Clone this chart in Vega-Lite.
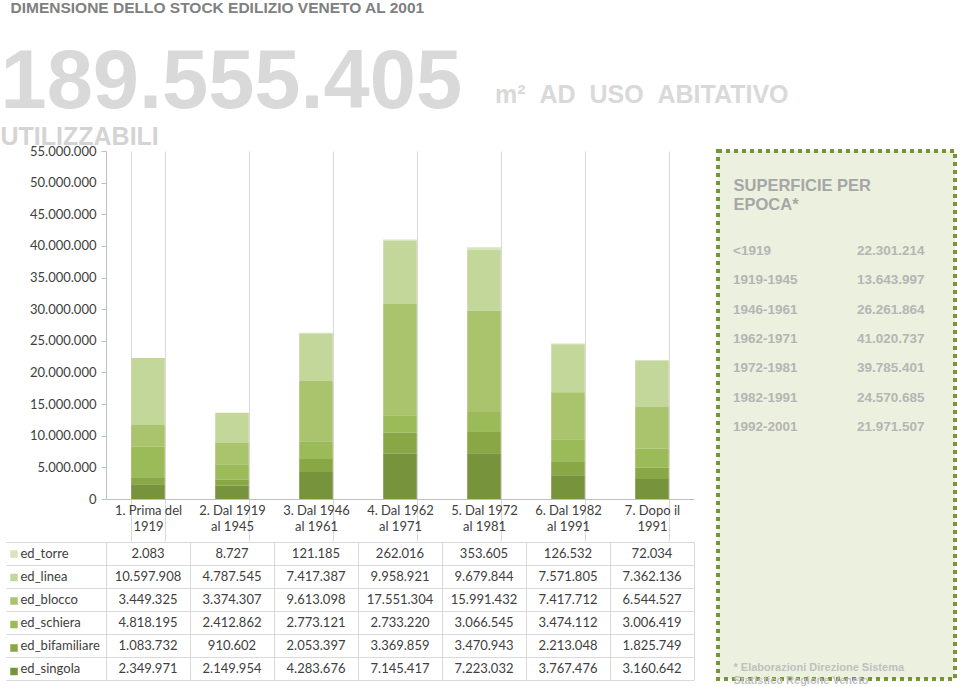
{
  "$schema": "https://vega.github.io/schema/vega-lite/v6.json",
  "background": "white",
  "padding": 0,
  "config": {
    "locale": {"number": {"decimal": ",", "thousands": ".", "grouping": [3], "currency": ["€", ""]}},
    "view": {"stroke": null},
    "font": "Lato"
  },
  "title": {
    "text": "DIMENSIONE DELLO STOCK EDILIZIO VENETO AL 2001",
    "anchor": "start",
    "font": "Liberation Sans",
    "fontSize": 15.5,
    "fontWeight": "bold",
    "color": "#808080",
    "dx": 10,
    "offset": 26
  },
  "datasets": {
    "superfici": [
      {"epoca": "1. Prima del 1919", "tipo": "ed_torre", "mq": 2083},
      {"epoca": "1. Prima del 1919", "tipo": "ed_linea", "mq": 10597908},
      {"epoca": "1. Prima del 1919", "tipo": "ed_blocco", "mq": 3449325},
      {"epoca": "1. Prima del 1919", "tipo": "ed_schiera", "mq": 4818195},
      {"epoca": "1. Prima del 1919", "tipo": "ed_bifamiliare", "mq": 1083732},
      {"epoca": "1. Prima del 1919", "tipo": "ed_singola", "mq": 2349971},
      {"epoca": "2. Dal 1919 al 1945", "tipo": "ed_torre", "mq": 8727},
      {"epoca": "2. Dal 1919 al 1945", "tipo": "ed_linea", "mq": 4787545},
      {"epoca": "2. Dal 1919 al 1945", "tipo": "ed_blocco", "mq": 3374307},
      {"epoca": "2. Dal 1919 al 1945", "tipo": "ed_schiera", "mq": 2412862},
      {"epoca": "2. Dal 1919 al 1945", "tipo": "ed_bifamiliare", "mq": 910602},
      {"epoca": "2. Dal 1919 al 1945", "tipo": "ed_singola", "mq": 2149954},
      {"epoca": "3. Dal 1946 al 1961", "tipo": "ed_torre", "mq": 121185},
      {"epoca": "3. Dal 1946 al 1961", "tipo": "ed_linea", "mq": 7417387},
      {"epoca": "3. Dal 1946 al 1961", "tipo": "ed_blocco", "mq": 9613098},
      {"epoca": "3. Dal 1946 al 1961", "tipo": "ed_schiera", "mq": 2773121},
      {"epoca": "3. Dal 1946 al 1961", "tipo": "ed_bifamiliare", "mq": 2053397},
      {"epoca": "3. Dal 1946 al 1961", "tipo": "ed_singola", "mq": 4283676},
      {"epoca": "4. Dal 1962 al 1971", "tipo": "ed_torre", "mq": 262016},
      {"epoca": "4. Dal 1962 al 1971", "tipo": "ed_linea", "mq": 9958921},
      {"epoca": "4. Dal 1962 al 1971", "tipo": "ed_blocco", "mq": 17551304},
      {"epoca": "4. Dal 1962 al 1971", "tipo": "ed_schiera", "mq": 2733220},
      {"epoca": "4. Dal 1962 al 1971", "tipo": "ed_bifamiliare", "mq": 3369859},
      {"epoca": "4. Dal 1962 al 1971", "tipo": "ed_singola", "mq": 7145417},
      {"epoca": "5. Dal 1972 al 1981", "tipo": "ed_torre", "mq": 353605},
      {"epoca": "5. Dal 1972 al 1981", "tipo": "ed_linea", "mq": 9679844},
      {"epoca": "5. Dal 1972 al 1981", "tipo": "ed_blocco", "mq": 15991432},
      {"epoca": "5. Dal 1972 al 1981", "tipo": "ed_schiera", "mq": 3066545},
      {"epoca": "5. Dal 1972 al 1981", "tipo": "ed_bifamiliare", "mq": 3470943},
      {"epoca": "5. Dal 1972 al 1981", "tipo": "ed_singola", "mq": 7223032},
      {"epoca": "6. Dal 1982 al 1991", "tipo": "ed_torre", "mq": 126532},
      {"epoca": "6. Dal 1982 al 1991", "tipo": "ed_linea", "mq": 7571805},
      {"epoca": "6. Dal 1982 al 1991", "tipo": "ed_blocco", "mq": 7417712},
      {"epoca": "6. Dal 1982 al 1991", "tipo": "ed_schiera", "mq": 3474112},
      {"epoca": "6. Dal 1982 al 1991", "tipo": "ed_bifamiliare", "mq": 2213048},
      {"epoca": "6. Dal 1982 al 1991", "tipo": "ed_singola", "mq": 3767476},
      {"epoca": "7. Dopo il 1991", "tipo": "ed_torre", "mq": 72034},
      {"epoca": "7. Dopo il 1991", "tipo": "ed_linea", "mq": 7362136},
      {"epoca": "7. Dopo il 1991", "tipo": "ed_blocco", "mq": 6544527},
      {"epoca": "7. Dopo il 1991", "tipo": "ed_schiera", "mq": 3006419},
      {"epoca": "7. Dopo il 1991", "tipo": "ed_bifamiliare", "mq": 1825749},
      {"epoca": "7. Dopo il 1991", "tipo": "ed_singola", "mq": 3160642}
    ],
    "epoche": [
      {"epoca": "<1919", "superficie": 22301214},
      {"epoca": "1919-1945", "superficie": 13643997},
      {"epoca": "1946-1961", "superficie": 26261864},
      {"epoca": "1962-1971", "superficie": 41020737},
      {"epoca": "1972-1981", "superficie": 39785401},
      {"epoca": "1982-1991", "superficie": 24570685},
      {"epoca": "1992-2001", "superficie": 21971507}
    ]
  },
  "resolve": {"scale": {"color": "independent", "x": "independent", "y": "independent"}, "legend": {"color": "independent"}},
  "spacing": -201,
  "hconcat": [
    {
      "title": {
        "text": "189.555.405",
        "subtitle": "UTILIZZABILI",
        "anchor": "start",
        "frame": "bounds",
        "font": "Liberation Sans",
        "fontSize": 83,
        "fontWeight": "bold",
        "color": "#d9d9d9",
        "subtitleFont": "Liberation Sans",
        "subtitleFontSize": 25,
        "subtitleFontWeight": "bold",
        "subtitleColor": "#d4d4d4",
        "subtitlePadding": 0,
        "offset": -5,
        "dx": -5
      },
      "spacing": -8,
      "resolve": {"scale": {"color": "independent"}, "legend": {"color": "independent"}},
      "vconcat": [
        {
          "width": 588,
          "height": 348,
          "data": {"name": "superfici"},
          "transform": [
            {"window": [{"op": "row_number", "as": "ordine"}], "groupby": ["epoca"]}
          ],
          "mark": {"type": "bar"},
          "encoding": {
            "x": {
              "field": "epoca",
              "type": "nominal",
              "sort": ["1. Prima del 1919", "2. Dal 1919 al 1945", "3. Dal 1946 al 1961", "4. Dal 1962 al 1971", "5. Dal 1972 al 1981", "6. Dal 1982 al 1991", "7. Dopo il 1991"],
              "scale": {"paddingInner": 0.6, "paddingOuter": 0.3},
              "axis": {
                "title": null,
                "tickBand": "extent",
                "grid": true,
                "gridColor": "#d9d9d9",
                "ticks": true,
                "tickSize": 42,
                "tickColor": "#d9d9d9",
                "domain": true,
                "domainColor": "#bfbfbf",
                "labelAngle": 0,
                "labelPadding": -37,
                "labelBaseline": "top",
                "labelFontSize": 13,
                "labelColor": "#404040",
                "labelLineHeight": 16,
                "labelOverlap": false,
                "labelBound": false,
                "labelExpr": "indexof(datum.label, ' al ') > 0 ? [substring(datum.label, 0, indexof(datum.label, ' al ')), substring(datum.label, indexof(datum.label, ' al ') + 1)] : [substring(datum.label, 0, lastindexof(datum.label, ' ')), substring(datum.label, lastindexof(datum.label, ' ') + 1)]"
              }
            },
            "y": {
              "field": "mq",
              "type": "quantitative",
              "stack": "zero",
              "scale": {"domain": [0, 55000000], "nice": false},
              "axis": {
                "title": null,
                "values": [0, 5000000, 10000000, 15000000, 20000000, 25000000, 30000000, 35000000, 40000000, 45000000, 50000000, 55000000],
                "format": ",d",
                "grid": false,
                "tickSize": 5,
                "tickColor": "#bfbfbf",
                "domainColor": "#bfbfbf",
                "labelPadding": 5,
                "labelFontSize": 13,
                "labelColor": "#404040",
                "minExtent": 99,
                "maxExtent": 99
              }
            },
            "order": {"field": "ordine", "type": "quantitative", "sort": "descending"},
            "color": {
              "field": "tipo",
              "type": "nominal",
              "sort": ["ed_torre", "ed_linea", "ed_blocco", "ed_schiera", "ed_bifamiliare", "ed_singola"],
              "scale": {
                "domain": ["ed_torre", "ed_linea", "ed_blocco", "ed_schiera", "ed_bifamiliare", "ed_singola"],
                "range": ["#D7E4BD", "#C4D79B", "#A9C46C", "#9BBB59", "#89A745", "#77933C"]
              },
              "legend": null
            }
          }
        },
        {
          "width": 588,
          "height": 138,
          "data": {"name": "superfici"},
          "encoding": {
            "x": {
              "field": "epoca",
              "type": "nominal",
              "sort": ["1. Prima del 1919", "2. Dal 1919 al 1945", "3. Dal 1946 al 1961", "4. Dal 1962 al 1971", "5. Dal 1972 al 1981", "6. Dal 1982 al 1991", "7. Dopo il 1991"],
              "axis": {
                "title": null,
                "tickBand": "extent",
                "grid": true,
                "gridColor": "#d9d9d9",
                "labels": false,
                "ticks": false,
                "domain": false
              }
            },
            "y": {
              "field": "tipo",
              "type": "nominal",
              "sort": ["ed_torre", "ed_linea", "ed_blocco", "ed_schiera", "ed_bifamiliare", "ed_singola"],
              "scale": {"paddingInner": 0, "paddingOuter": 0},
              "axis": {
                "title": null,
                "tickBand": "extent",
                "grid": true,
                "gridColor": "#d9d9d9",
                "ticks": true,
                "tickSize": 100,
                "tickColor": "#d9d9d9",
                "domain": false,
                "labelAlign": "left",
                "labelPadding": -14,
                "labelFontSize": 13,
                "labelColor": "#404040",
                "minExtent": 99,
                "maxExtent": 99
              }
            }
          },
          "layer": [
            {
              "mark": {"type": "text", "fontSize": 13, "color": "#404040"},
              "encoding": {"text": {"field": "mq", "type": "quantitative", "format": ",d"}}
            },
            {
              "mark": {"type": "square", "opacity": 0},
              "encoding": {
                "color": {
                  "field": "tipo",
                  "type": "nominal",
                  "sort": ["ed_torre", "ed_linea", "ed_blocco", "ed_schiera", "ed_bifamiliare", "ed_singola"],
                  "scale": {
                    "domain": ["ed_torre", "ed_linea", "ed_blocco", "ed_schiera", "ed_bifamiliare", "ed_singola"],
                    "range": ["#D7E4BD", "#C4D79B", "#A9C46C", "#9BBB59", "#89A745", "#77933C"]
                  },
                  "legend": {
                    "orient": "none",
                    "legendX": -96,
                    "legendY": 8,
                    "title": null,
                    "symbolType": "square",
                    "symbolSize": 56,
                    "symbolOpacity": 1,
                    "symbolStrokeWidth": 0,
                    "labelExpr": "''",
                    "labelFontSize": 1,
                    "rowPadding": 15.5,
                    "padding": 0
                  }
                }
              }
            }
          ]
        }
      ]
    },
    {
      "width": 237,
      "height": 528,
      "data": {"name": "epoche"},
      "view": {"fill": "#EBF1DE", "stroke": "#77933C", "strokeWidth": 4, "strokeDash": [4, 4]},
      "title": {
        "text": "m²\u00a0\u00a0AD\u00a0\u00a0USO\u00a0\u00a0ABITATIVO",
        "anchor": "start",
        "frame": "group",
        "font": "Liberation Sans",
        "fontSize": 25,
        "fontWeight": "bold",
        "color": "#d9d9d9",
        "baseline": "alphabetic",
        "offset": 23,
        "dx": -223
      },
      "encoding": {
        "y": {
          "field": "epoca",
          "type": "ordinal",
          "sort": null,
          "scale": {"type": "point", "padding": 0, "range": [100, 276]},
          "axis": {
            "labels": false,
            "ticks": false,
            "domain": false,
            "grid": false,
            "title": ["* Elaborazioni Direzione Sistema", "Statistico Regione Veneto"],
            "titleAngle": 0,
            "titleX": 15,
            "titleY": 510,
            "titleAlign": "left",
            "titleBaseline": "top",
            "titleFont": "Liberation Sans",
            "titleFontSize": 11,
            "titleFontWeight": "bold",
            "titleColor": "#bfbfbf",
            "titleLineHeight": 13
          }
        }
      },
      "layer": [
        {
          "mark": {"type": "text", "align": "left", "font": "Liberation Sans", "fontWeight": "bold", "fontSize": 13.5, "color": "#b5b5b5"},
          "encoding": {
            "x": {
              "datum": "epoca",
              "type": "nominal",
              "scale": {"type": "point", "padding": 0, "domain": ["epoca", "superficie"], "range": [15, 139]},
              "axis": {
                "orient": "top",
                "labels": false,
                "ticks": false,
                "domain": false,
                "grid": false,
                "title": ["SUPERFICIE PER", "EPOCA*"],
                "titleX": 15,
                "titleY": 26,
                "titleAlign": "left",
                "titleAnchor": "start",
                "titleBaseline": "top",
                "titleFont": "Liberation Sans",
                "titleFontSize": 16.5,
                "titleFontWeight": "bold",
                "titleColor": "#a6a6a6",
                "titleLineHeight": 19
              }
            },
            "text": {"field": "epoca"}
          }
        },
        {
          "mark": {"type": "text", "align": "left", "font": "Liberation Sans", "fontWeight": "bold", "fontSize": 13.5, "color": "#b5b5b5"},
          "encoding": {
            "x": {"datum": "superficie", "type": "nominal"},
            "text": {"field": "superficie", "type": "quantitative", "format": ",d"}
          }
        }
      ]
    }
  ]
}
